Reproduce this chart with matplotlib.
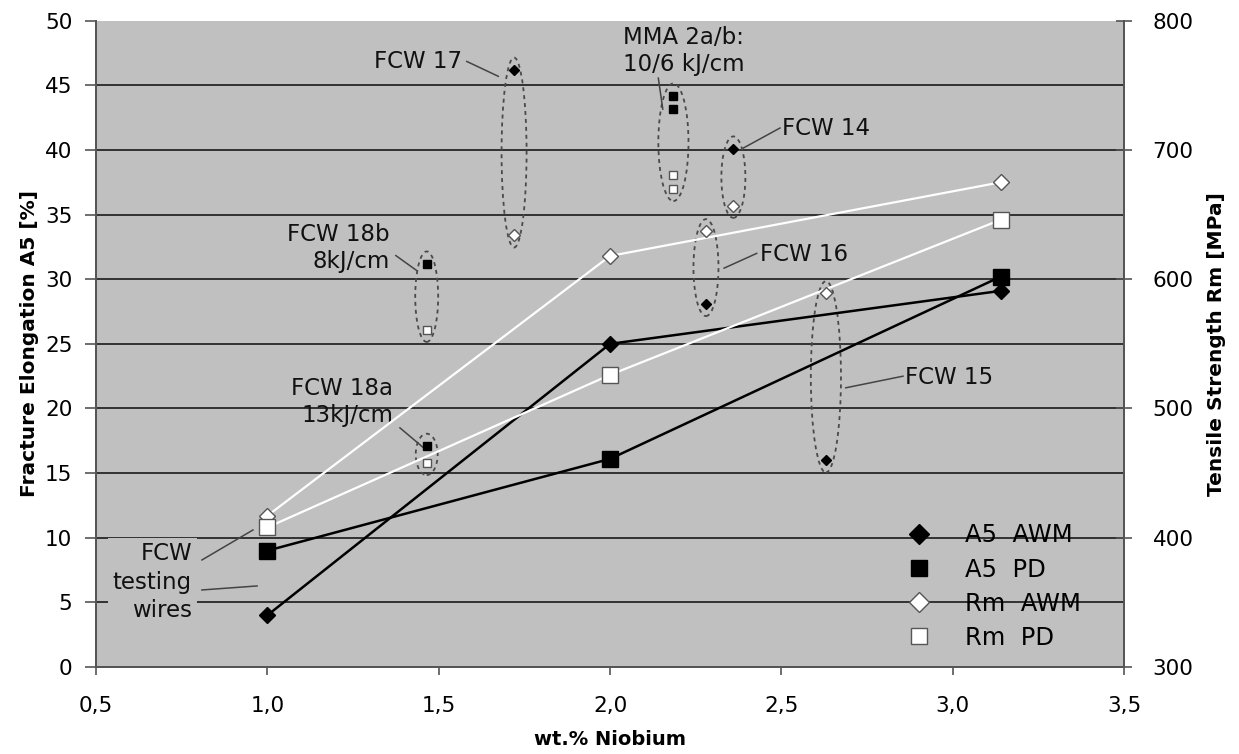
import numpy as np
import matplotlib
matplotlib.use("Agg")
import matplotlib.pyplot as plt
from matplotlib.patches import Ellipse
from matplotlib.lines import Line2D
from matplotlib.ticker import FuncFormatter

plt.rcParams['font.family'] = ['DejaVu Sans']

# FCW testing wires (connected series)
nb_main = [1.0, 2.0, 3.14]
a5_awm = [4.0, 25.0, 29.1]
a5_pd = [9.0, 16.1, 30.2]
rm_awm = [417, 618, 675]
rm_pd = [408, 526, 646]

# single wires, as welded (AWM): A5 and Rm
awm_names = ["FCW 17", "FCW 14", "FCW 16", "FCW 15"]
awm_nb = [1.72, 2.36, 2.28, 2.63]
awm_a5 = [46.2, 40.1, 28.1, 16.0]
awm_rm = [634, 657, 637, 589]

# single wires, post weld (PD): A5 and Rm
pd_names = ["FCW 18b", "FCW 18a", "MMA 2a", "MMA 2b"]
pd_nb = [1.465, 1.465, 2.185, 2.185]
pd_a5 = [31.2, 17.1, 44.2, 43.2]
pd_rm = [561, 458, 681, 670]

BG = "#c0c0c0"
ELL = "#4a4a4a"

fig = plt.figure(figsize=(12.39, 7.54), dpi=100)
ax = fig.add_axes([0.0775, 0.1154, 0.8297, 0.8571])
ax2 = ax.twinx()

ax.set_facecolor(BG)
ax.set_xlim(0.5, 3.5)
ax.set_ylim(0, 50)
ax2.set_ylim(300, 800)
ax.set_yticks(np.arange(0, 51, 5))
ax2.set_yticks(np.arange(300, 801, 100))
ax.set_xticks(np.arange(0.5, 3.51, 0.5))
ax.xaxis.set_major_formatter(FuncFormatter(lambda v, p: f"{v:.1f}".replace(".", ",")))
ax.yaxis.grid(True, color="#1a1a1a", lw=1.2)
ax.get_ygridlines()[-1].set_visible(False)
ax.set_axisbelow(True)

for a in (ax, ax2):
    a.spines['top'].set_visible(False)
    for s in ('left', 'right', 'bottom'):
        a.spines[s].set_color("#555555")
        a.spines[s].set_linewidth(1.3)

ax.tick_params(axis='y', direction='out', length=8, width=1.2, color="#555555", pad=9, labelsize=15.5)
ax.tick_params(axis='x', direction='out', length=6, width=1.2, color="#555555", pad=15, labelsize=15.5)
ax2.tick_params(axis='y', direction='inout', length=11, width=1.2, color="#555555", pad=15, labelsize=15.5)

ax.set_xlabel("wt.% Niobium", fontsize=14, fontweight='bold', labelpad=10)
ax.set_ylabel("Fracture Elongation A5 [%]", fontsize=14.5, fontweight='bold', labelpad=4)
ax2.set_ylabel("Tensile Strength Rm [MPa]", fontsize=14.5, fontweight='bold', labelpad=10)

# connected series
ax.plot(nb_main, a5_awm, color='black', lw=1.8, marker='D', ms=8, mfc='black', mec='black', zorder=3)
ax.plot(nb_main, a5_pd, color='black', lw=1.8, marker='s', ms=11, mfc='black', mec='black', zorder=3)
ax2.plot(nb_main, rm_awm, color='white', lw=1.6, marker='D', ms=8, mfc='white', mec='#555555', mew=1, zorder=3)
ax2.plot(nb_main, rm_pd, color='white', lw=1.6, marker='s', ms=11, mfc='white', mec='#555555', mew=1, zorder=3)

# single points
ax.plot(awm_nb, awm_a5, ls='none', marker='D', ms=5.5, mfc='black', mec='black', zorder=4)
ax.plot(pd_nb, pd_a5, ls='none', marker='s', ms=5.2, mfc='black', mec='black', zorder=4)
ax2.plot(awm_nb, awm_rm, ls='none', marker='D', ms=5.8, mfc='white', mec='#555555', mew=1, zorder=4)
ax2.plot(pd_nb, pd_rm, ls='none', marker='s', ms=5.2, mfc='white', mec='#555555', mew=1, zorder=4)

# dashed ellipses round each A5 / Rm pair (Rm converted to the left scale)
groups = [
    ([awm_a5[0]], [awm_rm[0]], awm_nb[0], 0.073),
    ([awm_a5[1]], [awm_rm[1]], awm_nb[1], 0.070),
    ([awm_a5[2]], [awm_rm[2]], awm_nb[2], 0.073),
    ([awm_a5[3]], [awm_rm[3]], awm_nb[3], 0.088),
    ([pd_a5[0]], [pd_rm[0]], pd_nb[0], 0.067),
    ([pd_a5[1]], [pd_rm[1]], pd_nb[1], 0.064),
    (pd_a5[2:4], pd_rm[2:4], pd_nb[2], 0.088),
]
for a5v, rmv, xc, w in groups:
    vals = list(a5v) + [(r - 300) / 10 for r in rmv]
    lo, hi = min(vals) - 0.95, max(vals) + 0.95
    ax.add_patch(Ellipse((xc, (lo + hi) / 2), w, hi - lo, fill=False,
                         ec=ELL, lw=1.3, ls=(0, (2.2, 2.2)), zorder=2))

# labels and leader lines
fs = 16.5
tc = "#111111"
lc = "#444444"
ax.text(1.568, 46.85, "FCW 17", ha='right', va='center', fontsize=fs, color=tc)
ax.plot([1.582, 1.674], [46.85, 45.7], color=lc, lw=1.1)
ax.text(2.214, 47.65, "MMA 2a/b:\n10/6 kJ/cm", ha='center', va='center', fontsize=fs, color=tc, linespacing=1.25)
ax.plot([2.141, 2.154], [45.56, 43.16], color=lc, lw=1.1)
ax.text(2.502, 41.7, "FCW 14", ha='left', va='center', fontsize=fs, color=tc)
ax.plot([2.389, 2.496], [40.15, 41.7], color=lc, lw=1.1)
ax.text(2.438, 31.9, "FCW 16", ha='left', va='center', fontsize=fs, color=tc)
ax.plot([2.333, 2.428], [30.86, 32.0], color=lc, lw=1.1)
ax.text(2.861, 22.4, "FCW 15", ha='left', va='center', fontsize=fs, color=tc)
ax.plot([2.688, 2.855], [21.6, 22.5], color=lc, lw=1.1)
ax.text(1.358, 32.4, "FCW 18b\n8kJ/cm", ha='right', va='center', fontsize=fs, color=tc, linespacing=1.25)
ax.plot([1.375, 1.436], [31.83, 30.67], color=lc, lw=1.1)
ax.text(1.367, 20.5, "FCW 18a\n13kJ/cm", ha='right', va='center', fontsize=fs, color=tc, linespacing=1.25)
ax.plot([1.387, 1.454], [18.5, 17.0], color=lc, lw=1.1)
ax.text(0.78, 6.55, "FCW\ntesting\nwires", ha='right', va='center', fontsize=fs, color=tc,
        linespacing=1.3, bbox=dict(boxstyle='square,pad=0.2', fc=BG, ec='none'), zorder=2.5)
ax.plot([0.809, 0.958], [8.28, 10.6], color=lc, lw=1.1)
ax.plot([0.809, 0.970], [5.96, 6.27], color=lc, lw=1.1)

# legend
handles = [
    Line2D([], [], ls='none', marker='D', ms=10, mfc='black', mec='black'),
    Line2D([], [], ls='none', marker='s', ms=12, mfc='black', mec='black'),
    Line2D([], [], ls='none', marker='D', ms=10, mfc='white', mec='#555555'),
    Line2D([], [], ls='none', marker='s', ms=12, mfc='white', mec='#555555'),
]
labels = ["A5  AWM", "A5  PD", "Rm  AWM", "Rm  PD"]
ax2.legend(handles, labels, loc='lower right', bbox_to_anchor=(0.975, 0.0), frameon=False,
           fontsize=17.5, labelspacing=0.42, handletextpad=0.9, borderaxespad=0.3)

fig.savefig("out.png", dpi=100)
